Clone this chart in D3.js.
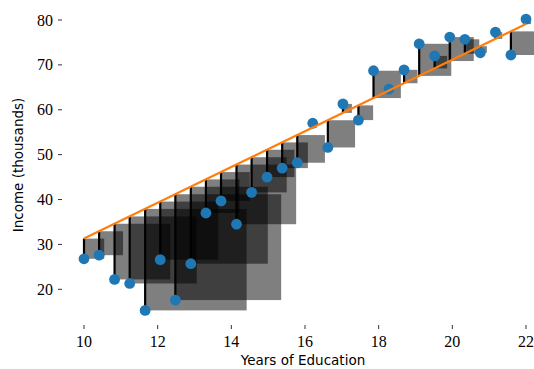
<!DOCTYPE html>
<html>
<head>
<meta charset="utf-8">
<script src="https://cdn.jsdelivr.net/npm/d3@7"></script>
<style>
  body { margin: 0; background: #fff; }
  .tick-label { font-family: "Liberation Serif", serif; font-size: 16px; fill: #000; }
  .axis-title { font-family: "DejaVu Sans", sans-serif; font-size: 13.5px; fill: #000; }
</style>
</head>
<body>
<svg id="chart" width="534" height="369"></svg>
<script>
// years of education for each person
const years = [10, 10.41, 10.83, 11.24, 11.66, 12.07, 12.48, 12.9, 13.31, 13.72,
  14.14, 14.55, 14.97, 15.38, 15.79, 16.21, 16.62, 17.03, 17.45, 17.86,
  18.28, 18.69, 19.1, 19.52, 19.93, 20.34, 20.76, 21.17, 21.59, 22];
// income in thousands
const income = [26.8, 27.6, 22.2, 21.3, 15.3, 26.6, 17.6, 25.7, 37.0, 39.7,
  34.5, 41.6, 45.0, 47.0, 48.2, 57.0, 51.6, 61.3, 57.7, 68.7,
  64.6, 68.9, 74.7, 72.0, 76.2, 75.7, 72.7, 77.3, 72.2, 80.2];
// the (guessed) line, given by its two ends
const lineX = [10, 22];
const lineY = [31.3, 79.1];
const xTicks = [10, 12, 14, 16, 18, 20, 22];
const yTicks = [20, 30, 40, 50, 60, 70, 80];

const svg = d3.select("#chart");

const x = d3.scaleLinear().domain([10, 22]).range([84, 526]);
const y = d3.scaleLinear().domain([20, 80]).range([289.3, 20]);

// predicted value on the line
const fit = d3.scaleLinear().domain(lineX).range(lineY);

const pts = years.map((v, i) => ({ x: v, y: income[i], yhat: fit(v) }));

// squared error boxes (square in screen space, to the right of the point)
svg.append("g")
  .selectAll("rect")
  .data(pts)
  .join("rect")
  .attr("x", d => x(d.x))
  .attr("y", d => y(Math.max(d.y, d.yhat)))
  .attr("width", d => Math.abs(y(d.y) - y(d.yhat)))
  .attr("height", d => Math.abs(y(d.y) - y(d.yhat)))
  .attr("fill", "#000")
  .attr("fill-opacity", 0.5);

// residual lines
svg.append("g")
  .selectAll("line")
  .data(pts)
  .join("line")
  .attr("x1", d => x(d.x))
  .attr("x2", d => x(d.x))
  .attr("y1", d => y(d.y))
  .attr("y2", d => y(d.yhat))
  .attr("stroke", "#000")
  .attr("stroke-width", 2.2);

// points
svg.append("g")
  .selectAll("circle")
  .data(pts)
  .join("circle")
  .attr("cx", d => x(d.x))
  .attr("cy", d => y(d.y))
  .attr("r", 5.4)
  .attr("fill", "#1f77b4");

// the line
svg.append("path")
  .datum(lineX.map((v, i) => [v, lineY[i]]))
  .attr("fill", "none")
  .attr("stroke", "#ff7f0e")
  .attr("stroke-width", 2.2)
  .attr("d", d3.line().x(d => x(d[0])).y(d => y(d[1])));

// x ticks
const xg = svg.append("g");
xg.selectAll("line")
  .data(xTicks)
  .join("line")
  .attr("x1", d => x(d)).attr("x2", d => x(d))
  .attr("y1", 325).attr("y2", 329)
  .attr("stroke", "#333").attr("stroke-width", 1);
xg.selectAll("text")
  .data(xTicks)
  .join("text")
  .attr("class", "tick-label")
  .attr("x", d => x(d))
  .attr("y", 347)
  .attr("text-anchor", "middle")
  .text(d => d);

// y ticks
const yg = svg.append("g");
yg.selectAll("line")
  .data(yTicks)
  .join("line")
  .attr("x1", 58).attr("x2", 62)
  .attr("y1", d => y(d)).attr("y2", d => y(d))
  .attr("stroke", "#333").attr("stroke-width", 1);
yg.selectAll("text")
  .data(yTicks)
  .join("text")
  .attr("class", "tick-label")
  .attr("x", 53)
  .attr("y", d => y(d))
  .attr("dy", "0.35em")
  .attr("text-anchor", "end")
  .text(d => d);

// axis titles
svg.append("text")
  .attr("class", "axis-title")
  .attr("x", 303)
  .attr("y", 365)
  .attr("text-anchor", "middle")
  .text("Years of Education");

svg.append("text")
  .attr("class", "axis-title")
  .attr("transform", "translate(23,165) rotate(-90)")
  .attr("text-anchor", "middle")
  .text("Income (thousands)");
</script>
</body>
</html>
